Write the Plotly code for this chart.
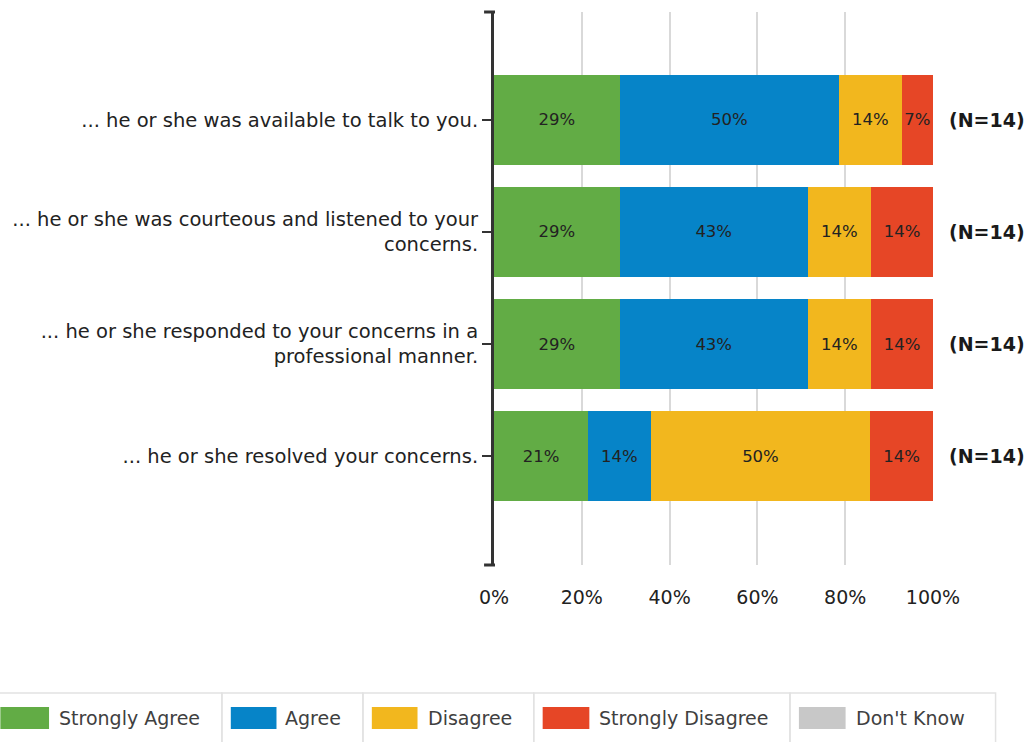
import plotly.graph_objects as go

# ---------------- data ----------------
categories = [
    "... he or she was available to talk to you.",
    "... he or she was courteous and listened to your<br>concerns.",
    "... he or she responded to your concerns in a<br>professional manner.",
    "... he or she resolved your concerns.",
]
series_names = ["Strongly Agree", "Agree", "Disagree", "Strongly Disagree", "Don't Know"]
strongly_agree = [28.6, 28.6, 28.6, 21.4]
agree = [50.0, 42.9, 42.9, 14.3]
disagree = [14.3, 14.3, 14.3, 50.0]
strongly_disagree = [7.1, 14.3, 14.3, 14.3]
dont_know = [0.0, 0.0, 0.0, 0.0]
n_labels = ["(N=14)", "(N=14)", "(N=14)", "(N=14)"]
x_tick_values = [0, 20, 40, 60, 80, 100]
x_tick_labels = ["0%", "20%", "40%", "60%", "80%", "100%"]

series_values = [strongly_agree, agree, disagree, strongly_disagree, dont_know]
colors = ["#62AC45", "#0684C8", "#F2B71E", "#E64626", "#C8C8C8"]

# ---------------- layout constants (pixels) ----------------
W, H = 1031, 742
L, R, T, B = 491, 98, 12, 177
PW, PH = W - L - R, H - T - B
FONT = "DejaVu Sans"


def px_x(p):
    return (p - L) / PW


def px_y(p):
    return (H - B - p) / PH


fig = go.Figure()
for name, vals, col in zip(series_names, series_values, colors):
    fig.add_trace(go.Bar(
        y=categories, x=vals, name=name, orientation="h",
        marker=dict(color=col, line=dict(width=0)),
        text=[f"{round(v)}%" if v > 0 else "" for v in vals],
        textposition="inside", insidetextanchor="middle", textangle=0,
        textfont=dict(family=FONT, size=16.5, color="#222222"),
        width=0.81, showlegend=False, hoverinfo="skip",
    ))

# N labels
for cat, lab in zip(categories, n_labels):
    fig.add_annotation(x=1, xref="paper", xanchor="left", xshift=14,
                       y=cat, yref="y", text=f"<b>{lab}</b>", showarrow=False,
                       font=dict(family=FONT, size=19, color="#1a1a1a"))

shapes = []
# y-axis end caps (bracket ends)
for yy in (0, 1):
    shapes.append(dict(type="line", xref="paper", x0=px_x(481), x1=px_x(492),
                       yref="paper", y0=yy, y1=yy,
                       line=dict(color="#333333", width=3)))

# manual legend
cell_edges = [-12, 217, 359, 531, 789, 996]
sq_x = [(-6, 43), (226, 272), (368, 414), (540, 587), (798, 845)]
txt_x = [51, 279, 423, 595, 853]
leg_top, leg_bot = 693, 752
sq_top, sq_bot, txt_y = 707, 729, 718
for i, (name, col) in enumerate(zip(series_names, colors)):
    shapes.append(dict(type="rect", xref="paper", yref="paper",
                       x0=px_x(cell_edges[i]), x1=px_x(cell_edges[i + 1]),
                       y0=px_y(leg_bot), y1=px_y(leg_top),
                       line=dict(color="#E2E2E2", width=1.5), fillcolor="rgba(0,0,0,0)"))
    shapes.append(dict(type="rect", xref="paper", yref="paper",
                       x0=px_x(sq_x[i][0]), x1=px_x(sq_x[i][1]),
                       y0=px_y(sq_bot), y1=px_y(sq_top),
                       line=dict(width=0), fillcolor=col))
    fig.add_annotation(x=px_x(txt_x[i]), y=px_y(txt_y), xref="paper", yref="paper",
                       xanchor="left", yanchor="middle", text=name, showarrow=False,
                       font=dict(family=FONT, size=19, color="#404040"))

fig.update_layout(
    width=W, height=H, barmode="stack",
    margin=dict(l=L, r=R, t=T, b=B, pad=0),
    plot_bgcolor="white", paper_bgcolor="white",
    font=dict(family=FONT, color="#222222"),
    bargap=0.19, shapes=shapes,
    uniformtext=dict(minsize=16.5, mode="show"),
)
fig.update_xaxes(range=[0, 100], tickvals=x_tick_values, ticktext=x_tick_labels,
                 showgrid=True, gridcolor="#D9D9D9", gridwidth=1.5,
                 zeroline=False, showline=False, ticks="",
                 tickfont=dict(family=FONT, size=19, color="#222222"),
                 ticklabelstandoff=19, fixedrange=True)
fig.update_yaxes(type="category", categoryorder="array", categoryarray=categories,
                 range=[3.973, -0.964], showgrid=False, zeroline=False,
                 showline=True, linecolor="#333333", linewidth=3,
                 ticks="outside", ticklen=9, tickwidth=2, tickcolor="#333333",
                 tickfont=dict(family=FONT, size=19.5, color="#222222"),
                 fixedrange=True)

fig.write_html("out.html", config={"displayModeBar": False},
               post_script="document.body.style.margin='0';document.body.style.overflow='hidden';")
